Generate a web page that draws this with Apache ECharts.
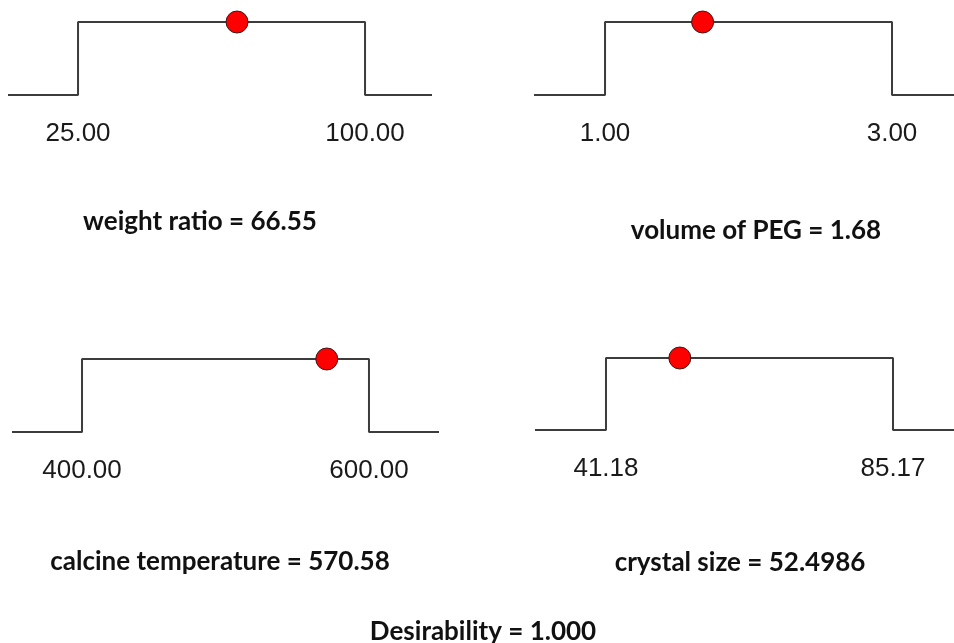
<!DOCTYPE html>
<html>
<head>
<meta charset="utf-8">
<title>Desirability ramps</title>
<script src="https://cdn.jsdelivr.net/npm/echarts@6/dist/echarts.min.js"></script>
<style>
  html, body { margin: 0; padding: 0; background: #ffffff; }
  #chart { width: 954px; height: 643px; }
</style>
</head>
<body>
<div id="chart"></div>
<script>
// Factor names, their lower/upper goal limits and the optimum found for each
const factorNames = ['weight ratio', 'volume of PEG', 'calcine temperature', 'crystal size'];
const lowLimits   = [25.00, 1.00, 400.00, 41.18];
const highLimits  = [100.00, 3.00, 600.00, 85.17];
const optimumText = ['66.55', '1.68', '570.58', '52.4986'];
const optimumVals = [66.55, 1.68, 570.58, 52.4986];
// Axis extents (where the flat ends of each ramp stop)
const axisMins = [6.7, 0.505, 351.2, 30.30];
const axisMaxs = [117.5, 3.432, 648.8, 94.52];
const desirability = 1.000;

// Panel boxes: left/right edge of the ramp, top (goal met) and bottom (goal missed)
const panelBoxes = [
  { x0: 8,   x1: 432, yTop: 22,  yBot: 95  },
  { x0: 534, x1: 954, yTop: 22,  yBot: 95  },
  { x0: 12,  x1: 439, yTop: 359, yBot: 432 },
  { x0: 535, x1: 954, yTop: 358, yBot: 430 }
];
const titlePos = [
  { x: 200, y: 209 },
  { x: 756, y: 218 },
  { x: 220, y: 549 },
  { x: 740, y: 550 }
];

const W = 954, H = 643;
const labelFont = 'Liberation Sans, Arial, sans-serif';
const titleFont = 'Lato, Open Sans, sans-serif';

const grids = [], xAxes = [], yAxes = [], series = [], titles = [];

factorNames.forEach((name, i) => {
  const b = panelBoxes[i];
  grids.push({
    left: b.x0, width: b.x1 - b.x0,
    top: b.yTop, height: b.yBot - b.yTop,
    containLabel: false
  });
  xAxes.push({
    type: 'value', gridIndex: i,
    min: axisMins[i], max: axisMaxs[i],
    axisLine: { show: false }, axisTick: { show: false },
    splitLine: { show: false },
    axisLabel: {
      customValues: [lowLimits[i], highLimits[i]],
      formatter: v => v.toFixed(2),
      margin: 26,
      fontFamily: labelFont, fontSize: 26, color: '#1a1a1a'
    }
  });
  yAxes.push({
    type: 'value', gridIndex: i, min: 0, max: 1, show: false
  });
  // Step-shaped desirability ramp: 0 outside the limits, 1 between them
  series.push({
    type: 'line', xAxisIndex: i, yAxisIndex: i,
    data: [
      [axisMins[i], 0], [lowLimits[i], 0], [lowLimits[i], 1],
      [highLimits[i], 1], [highLimits[i], 0], [axisMaxs[i], 0]
    ],
    symbol: 'none', clip: false, silent: true,
    lineStyle: { color: '#3c3c3c', width: 2 }
  });
  // Optimum marker
  series.push({
    type: 'scatter', xAxisIndex: i, yAxisIndex: i,
    data: [[optimumVals[i], 1]],
    symbol: 'circle', symbolSize: 22, clip: false, z: 5,
    itemStyle: { color: '#ff0000', opacity: 1, borderColor: '#3a1a1a', borderWidth: 1 }
  });
  titles.push({
    text: name + ' = ' + optimumText[i],
    left: titlePos[i].x, top: titlePos[i].y, textAlign: 'center', padding: 0,
    textStyle: { fontFamily: titleFont, fontWeight: 'bold', fontSize: 26, color: '#111111' }
  });
});

titles.push({
  text: 'Desirability = ' + desirability.toFixed(3),
  left: 483, top: 619, textAlign: 'center', padding: 0,
  textStyle: { fontFamily: titleFont, fontWeight: 'bold', fontSize: 26, color: '#111111' }
});

const chart = echarts.init(document.getElementById('chart'), null, { renderer: 'canvas', width: W, height: H });
chart.setOption({
  animation: false,
  backgroundColor: '#ffffff',
  title: titles,
  grid: grids,
  xAxis: xAxes,
  yAxis: yAxes,
  series: series
});
</script>
</body>
</html>
